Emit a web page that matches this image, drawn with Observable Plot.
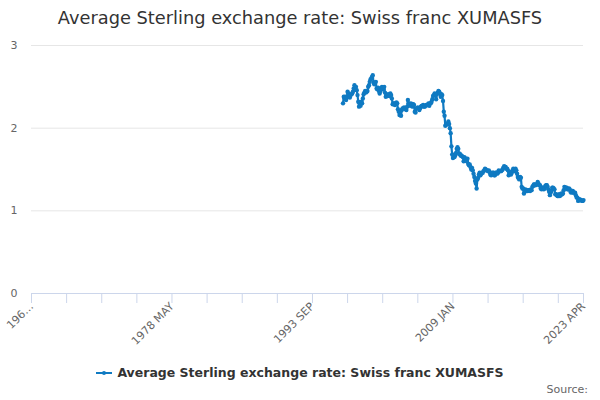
<!DOCTYPE html>
<html>
<head>
<meta charset="utf-8">
<script src="https://cdn.jsdelivr.net/npm/d3@7"></script>
<script src="https://cdn.jsdelivr.net/npm/@observablehq/plot@0.6"></script>
<style>
  html, body { margin: 0; padding: 0; background: #fff; }
  body { width: 600px; height: 400px; overflow: hidden; font-family: "DejaVu Sans", sans-serif; position: relative; }
  #title { height: 36px; line-height: 36px; text-align: center; font-size: 17.8px; color: #333; }
  #legend { position: absolute; top: 365px; left: 0; width: 600px; text-align: center; font-size: 12.5px; font-weight: bold; color: #333; }
  #legend svg { vertical-align: middle; margin-right: 5px; position: relative; top: -1px; }
  #source { position: absolute; top: 383px; right: 12px; font-size: 11px; color: #666; }
</style>
</head>
<body>
<div id="title">Average Sterling exchange rate: Swiss franc XUMASFS</div>
<div id="chart"></div>
<div id="legend"></div>
<div id="source">Source:</div>
<script>
const seriesName = "Average Sterling exchange rate: Swiss franc XUMASFS";
const axisStartYear = 1963;           // first category: 1963 JAN
const axisEnd = { year: 2023, month: 4 }; // last category: 2023 APR
const dataStartYear = 1997;           // first observation: 1997 JAN
const monthNames = ["JAN","FEB","MAR","APR","MAY","JUN","JUL","AUG","SEP","OCT","NOV","DEC"];
const tickEvery = 46;                 // a tick every 46 categories
const labelEvery = 4;                 // a label on every 4th tick
const yTicks = [0, 1, 2, 3];

// Monthly values, 1997 JAN .. 2023 APR
const values = [
  // 1997
  2.30, 2.38, 2.36, 2.38, 2.34, 2.37, 2.44, 2.42, 2.39, 2.37, 2.40, 2.41,
  // 1998
  2.42, 2.44, 2.48, 2.52, 2.47, 2.50, 2.46, 2.40, 2.32, 2.26, 2.30, 2.27,
  // 1999
  2.32, 2.30, 2.36, 2.41, 2.43, 2.45, 2.43, 2.44, 2.45, 2.50, 2.52, 2.56,
  // 2000
  2.59, 2.60, 2.62, 2.64, 2.55, 2.53, 2.55, 2.56, 2.48, 2.47, 2.49, 2.45,
  // 2001
  2.42, 2.45, 2.47, 2.50, 2.48, 2.47, 2.50, 2.43, 2.38, 2.40, 2.39, 2.41,
  // 2002
  2.40, 2.39, 2.42, 2.40, 2.36, 2.29, 2.30, 2.30, 2.28, 2.30, 2.31, 2.30,
  // 2003
  2.23, 2.20, 2.16, 2.20, 2.15, 2.22, 2.24, 2.24, 2.25, 2.24, 2.23, 2.22,
  // 2004
  2.26, 2.34, 2.30, 2.28, 2.27, 2.30, 2.29, 2.26, 2.29, 2.28, 2.20, 2.19,
  // 2005
  2.24, 2.24, 2.25, 2.24, 2.22, 2.24, 2.26, 2.27, 2.27, 2.28, 2.26, 2.26,
  // 2006
  2.27, 2.28, 2.28, 2.28, 2.30, 2.27, 2.30, 2.30, 2.32, 2.35, 2.39, 2.40,
  // 2007
  2.42, 2.40, 2.35, 2.41, 2.43, 2.45, 2.44, 2.42, 2.38, 2.41, 2.40, 2.33,
  // 2008
  2.20, 2.15, 2.03, 2.04, 2.05, 2.05, 2.08, 2.05, 2.00, 1.94, 1.78, 1.68,
  // 2009
  1.64, 1.68, 1.65, 1.67, 1.70, 1.75, 1.77, 1.75, 1.69, 1.69, 1.67, 1.67,
  // 2010
  1.66, 1.65, 1.60, 1.65, 1.63, 1.63, 1.60, 1.63, 1.57, 1.55, 1.56, 1.53,
  // 2011
  1.50, 1.52, 1.49, 1.45, 1.41, 1.36, 1.33, 1.27, 1.38, 1.40, 1.44, 1.46,
  // 2012
  1.43, 1.45, 1.46, 1.46, 1.48, 1.49, 1.51, 1.50, 1.49, 1.49, 1.48, 1.49,
  // 2013
  1.47, 1.44, 1.43, 1.45, 1.46, 1.46, 1.43, 1.43, 1.46, 1.46, 1.45, 1.46,
  // 2014
  1.49, 1.48, 1.48, 1.48, 1.49, 1.50, 1.52, 1.54, 1.53, 1.53, 1.51, 1.51,
  // 2015
  1.49, 1.43, 1.47, 1.45, 1.44, 1.46, 1.49, 1.51, 1.48, 1.48, 1.51, 1.49,
  // 2016
  1.45, 1.41, 1.39, 1.38, 1.41, 1.40, 1.29, 1.27, 1.27, 1.21, 1.24, 1.26,
  // 2017
  1.24, 1.25, 1.24, 1.25, 1.25, 1.24, 1.26, 1.25, 1.29, 1.30, 1.32, 1.32,
  // 2018
  1.31, 1.32, 1.32, 1.35, 1.33, 1.31, 1.31, 1.27, 1.26, 1.28, 1.28, 1.26,
  // 2019
  1.27, 1.30, 1.31, 1.31, 1.29, 1.26, 1.23, 1.19, 1.22, 1.24, 1.28, 1.28,
  // 2020
  1.27, 1.26, 1.20, 1.20, 1.19, 1.18, 1.18, 1.20, 1.18, 1.19, 1.21, 1.20,
  // 2021
  1.21, 1.25, 1.29, 1.27, 1.28, 1.28, 1.26, 1.26, 1.27, 1.26, 1.23, 1.22,
  // 2022
  1.24, 1.24, 1.22, 1.22, 1.22, 1.19, 1.16, 1.16, 1.12, 1.13, 1.14, 1.13,
  // 2023
  1.13, 1.12, 1.12, 1.13
];

const color = "#0f7ac2";

// Category index helpers
const lastIndex = (axisEnd.year - axisStartYear) * 12 + (axisEnd.month - 1);
const dataOffset = (dataStartYear - axisStartYear) * 12;
const catLabel = i => `${axisStartYear + Math.floor(i / 12)} ${monthNames[i % 12]}`;

const data = values.map((v, k) => ({ i: dataOffset + k, v }));

const tickIdx = d3.range(0, lastIndex, tickEvery).concat([lastIndex]);
const labelIdx = d3.range(0, lastIndex, tickEvery * labelEvery).concat([lastIndex]);
const fmt = i => {
  const s = catLabel(i);
  return i === 0 ? s.slice(0, 3) + "…" : s;
};

const chart = Plot.plot({
  width: 600,
  height: 320,
  marginTop: 9,
  marginBottom: 63,
  marginLeft: 31,
  marginRight: 17,
  style: { fontFamily: "DejaVu Sans, sans-serif", fontSize: "11px", color: "#666", background: "#fff" },
  x: { domain: [0, lastIndex], axis: null, label: null },
  y: { domain: [0, 3], axis: null, label: null },
  marks: [
    Plot.gridY(yTicks, { stroke: "#e6e6e6", strokeOpacity: 1, strokeWidth: 1 }),
    Plot.axisY(yTicks, { tickSize: 0, tickPadding: 14, fill: "#666", fontSize: 11, label: null, tickFormat: d3.format("d") }),
    Plot.ruleY([0], { stroke: "#ccd6eb", strokeWidth: 1 }),
    Plot.axisX(tickIdx, { tickSize: 10, stroke: "#ccd6eb", strokeOpacity: 1, tickFormat: () => "", label: null }),
    Plot.axisX(labelIdx, { tickSize: 0, tickPadding: 11, tickRotate: -45, tickFormat: fmt, fill: "#666", fontSize: 11, label: null }),
    Plot.line(data, { x: "i", y: "v", stroke: color, strokeWidth: 2.2 }),
    Plot.dot(data, { x: "i", y: "v", r: 2.2, fill: color, stroke: "none" })
  ]
});
document.getElementById("chart").appendChild(chart);

// Legend
const legend = document.getElementById("legend");
legend.innerHTML = `<svg width="16" height="8"><line x1="0" y1="4" x2="16" y2="4" stroke="${color}" stroke-width="2"/><circle cx="8" cy="4" r="2" fill="${color}"/></svg>`;
legend.appendChild(document.createTextNode(seriesName));
</script>
</body>
</html>
